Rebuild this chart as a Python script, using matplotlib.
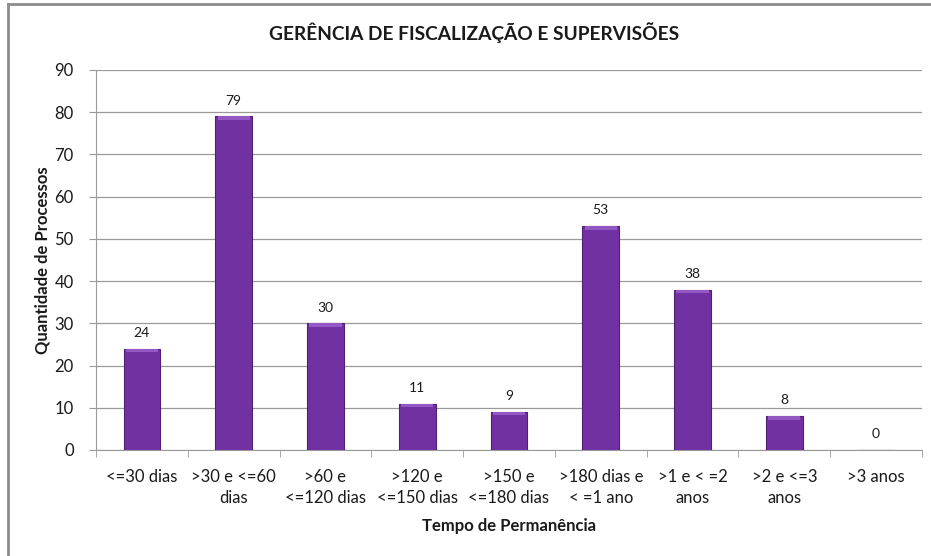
"""Bar chart: tempo de permanência dos processos na gerência."""
import matplotlib
matplotlib.use("Agg")
import matplotlib.pyplot as plt
import numpy as np
from matplotlib.lines import Line2D

categories = [
    "<=30 dias",
    ">30 e <=60\ndias",
    ">60 e\n<=120 dias",
    ">120 e\n<=150 dias",
    ">150 e\n<=180 dias",
    ">180 dias e\n< =1 ano",
    ">1 e < =2\nanos",
    ">2 e <=3\nanos",
    ">3 anos",
]
quantidades = [24, 79, 30, 11, 9, 53, 38, 8, 0]

plt.rcParams["font.family"] = ["Lato", "DejaVu Sans"]
ink = "#1a1a1a"
grid = "#9a9a9a"

fig = plt.figure(figsize=(9.31, 5.56), dpi=100)
fig.patch.set_facecolor("white")
ax = fig.add_axes([96 / 931, 106 / 556, 826 / 931, 380 / 556])

x = np.arange(len(categories))
bars = ax.bar(x, quantidades, width=0.40, color="#7231a3",
              edgecolor="#4e1f73", linewidth=0.8, zorder=3)
# light bevel strip at the top of each bar
for rect in bars:
    h = rect.get_height()
    if h <= 0:
        continue
    ax.bar(rect.get_x() + rect.get_width() / 2, min(0.8, h), bottom=h - min(0.8, h),
           width=rect.get_width() * 0.88, color="#9458c4", linewidth=0, zorder=4)

for xi, v in zip(x, quantidades):
    ax.annotate(str(v), (xi, v), xytext=(0, 7), textcoords="offset points",
                ha="center", va="bottom", fontsize=10, color=ink)

ax.set_xlim(-0.5, len(categories) - 0.5)
ax.set_ylim(0, 90)
ax.set_yticks(range(0, 91, 10))
ax.set_xticks(x)
ax.set_xticklabels(categories, fontsize=12, color=ink, linespacing=1.35)
ax.tick_params(axis="x", length=0, pad=14)
ax.set_xticks(np.arange(-0.5, len(categories), 1), minor=True)
ax.tick_params(axis="x", which="minor", length=5, color=grid, direction="out")
ax.tick_params(axis="y", length=5, color=grid, labelsize=12, labelcolor=ink, pad=11)

ax.grid(axis="y", color=grid, linewidth=0.9, zorder=0)
ax.set_axisbelow(True)
for side in ["top", "right"]:
    ax.spines[side].set_visible(False)
ax.spines["left"].set_color(grid)
ax.spines["bottom"].set_color(grid)

ax.set_ylabel("Quantidade de Processos", fontsize=12, fontweight="bold", color=ink, labelpad=3)
ax.set_xlabel("Tempo de Permanência", fontsize=12, fontweight="bold", color=ink, labelpad=9)
fig.text(474 / 931, 1 - 33 / 556, "GERÊNCIA DE FISCALIZAÇÃO E SUPERVISÕES",
         ha="center", va="center", fontsize=13.8, fontweight="bold", color=ink)

# chart frame (only left and top edges visible in the crop)
fig.add_artist(Line2D([8 / 931, 8 / 931], [0, 1 - 4 / 556], transform=fig.transFigure,
                      color="#8c8c8c", linewidth=2))
fig.add_artist(Line2D([8 / 931, 1], [1 - 4 / 556, 1 - 4 / 556], transform=fig.transFigure,
                      color="#8c8c8c", linewidth=2))

fig.savefig("out.png", dpi=100, facecolor="white")
